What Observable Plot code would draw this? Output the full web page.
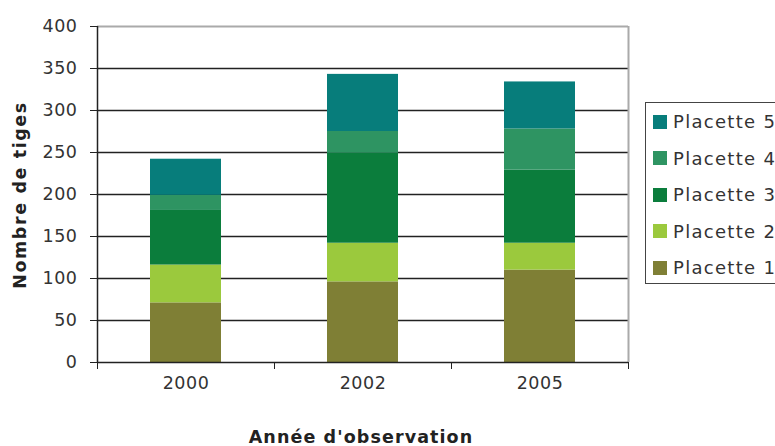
<!DOCTYPE html>
<html>
<head>
<meta charset="utf-8">
<script src="https://cdn.jsdelivr.net/npm/d3@7"></script>
<script src="https://cdn.jsdelivr.net/npm/@observablehq/plot@0.6"></script>
<style>
  body { margin: 0; background: #fff; }
  #wrap { position: relative; width: 775px; height: 446px; overflow: hidden; font-family: "DejaVu Sans", sans-serif; color: #333; }
  #ytitle { position: absolute; left: 20px; top: 195px; transform: translate(-50%, -50%) rotate(-90deg); font-weight: bold; font-size: 17.5px; letter-spacing: 1.6px; white-space: nowrap; color: #222; }
  #xtitle { position: absolute; left: 361px; top: 437px; transform: translate(-50%, -50%); font-weight: bold; font-size: 17.5px; letter-spacing: 1.1px; white-space: nowrap; color: #222; }
  #legend { position: absolute; left: 645px; top: 102px; width: 160px; height: 182px; border: 1.5px solid #444; box-sizing: border-box; }
  .item { position: absolute; left: 7px; display: flex; align-items: center; font-size: 18px; letter-spacing: 1.3px; white-space: nowrap; color: #333; }
  .sw { width: 14px; height: 14px; margin-right: 6px; }
</style>
</head>
<body>
<div id="wrap">
  <div id="chart"></div>
  <div id="ytitle">Nombre de tiges</div>
  <div id="xtitle">Année d'observation</div>
  <div id="legend"></div>
</div>
<script>
const years = ["2000", "2002", "2005"];
const placettes = ["Placette 1", "Placette 2", "Placette 3", "Placette 4", "Placette 5"];
const colors = ["#7f7f35", "#9bc93d", "#0b7d3c", "#2e9462", "#077d7b"];
const p1 = [71, 96, 110];
const p2 = [45, 46, 32];
const p3 = [65, 107, 87];
const p4 = [18, 26, 49];
const p5 = [43, 68, 56];
const yTicks = [0, 50, 100, 150, 200, 250, 300, 350, 400];

const series = [p1, p2, p3, p4, p5];
const data = [];
series.forEach((vals, i) => vals.forEach((v, j) => data.push({year: years[j], placette: placettes[i], value: v})));

const W = 775, H = 446, ML = 97, MR = 147, MT = 26, MB = 84;
const step = (W - ML - MR) / years.length;

const chart = Plot.plot({
  width: W, height: H,
  marginLeft: ML, marginRight: MR, marginTop: MT, marginBottom: MB,
  style: {fontFamily: "DejaVu Sans, sans-serif", fontSize: "17.5px", letterSpacing: "0.5px", color: "#333", background: "#fff"},
  x: {domain: years, paddingInner: 0.6, paddingOuter: 0.3, axis: null},
  y: {domain: [0, 400], axis: null},
  color: {domain: placettes, range: colors},
  marks: [
    Plot.ruleY(yTicks.filter(d => d > 0 && d < 400), {stroke: "#222", strokeWidth: 1.5}),
    Plot.ruleY([400], {stroke: "#aaa", strokeWidth: 2}),
    Plot.ruleX([years[years.length - 1]], {dx: step / 2, stroke: "#aaa", strokeWidth: 2}),
    Plot.barY(data, {x: "year", y: "value", fill: "placette", order: placettes}),
    Plot.ruleY([0], {stroke: "#222", strokeWidth: 1.5}),
    Plot.ruleX([years[0]], {dx: -step / 2, stroke: "#222", strokeWidth: 1.5}),
    Plot.axisY({ticks: yTicks, tickSize: 7, tickPadding: 13, tickFormat: d => String(d), label: null, stroke: "#222"}),
    Plot.axisX({tickSize: 7, dx: -step / 2, tickFormat: () => "", label: null, stroke: "#222"}),
    Plot.axisX({ticks: [years[years.length - 1]], tickSize: 7, dx: step / 2, tickFormat: () => "", label: null, stroke: "#222"}),
    Plot.axisX({tickSize: 0, tickPadding: 14, label: null, style: {letterSpacing: "1px"}})
  ]
});
document.getElementById("chart").appendChild(chart);

const legend = document.getElementById("legend");
const legendOrder = [4, 3, 2, 1, 0];
legendOrder.forEach((i, k) => {
  const it = document.createElement("div");
  it.className = "item";
  it.style.top = (8 + k * 36.5) + "px";
  const sw = document.createElement("div");
  sw.className = "sw";
  sw.style.background = colors[i];
  const tx = document.createElement("span");
  tx.textContent = placettes[i];
  it.appendChild(sw);
  it.appendChild(tx);
  legend.appendChild(it);
});
</script>
</body>
</html>
